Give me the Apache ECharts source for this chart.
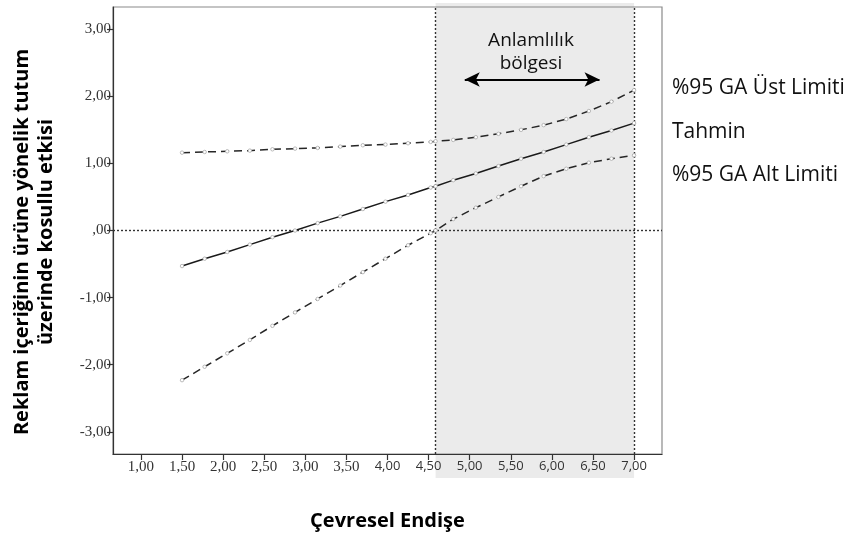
<!DOCTYPE html>
<html>
<head>
<meta charset="utf-8">
<script src="https://cdn.jsdelivr.net/npm/echarts@6/dist/echarts.min.js"></script>
<style>html,body{margin:0;padding:0;background:#fff}#c{width:852px;height:538px}</style>
</head>
<body>
<div id="c"></div>
<script>
// Moderator values (Çevresel Endişe)
var xValues = [1.5, 1.775, 2.05, 2.325, 2.6, 2.875, 3.15, 3.425, 3.7, 3.975, 4.25, 4.525, 4.585, 4.8, 5.075, 5.35, 5.625, 5.9, 6.175, 6.45, 6.725, 7.0];
var upperCI = [1.16, 1.17, 1.18, 1.19, 1.21, 1.22, 1.23, 1.25, 1.27, 1.28, 1.30, 1.32, 1.33, 1.35, 1.39, 1.44, 1.50, 1.57, 1.66, 1.78, 1.92, 2.09];
var estimate = [-0.53, -0.42, -0.32, -0.21, -0.10, 0.00, 0.11, 0.21, 0.32, 0.43, 0.53, 0.64, 0.66, 0.75, 0.85, 0.96, 1.07, 1.17, 1.28, 1.39, 1.49, 1.60];
var lowerCI = [-2.23, -2.03, -1.83, -1.63, -1.42, -1.22, -1.02, -0.82, -0.62, -0.42, -0.22, -0.04, 0.00, 0.17, 0.34, 0.50, 0.66, 0.81, 0.92, 1.01, 1.07, 1.12];
var xTicks = [1.0, 1.5, 2.0, 2.5, 3.0, 3.5, 4.0, 4.5, 5.0, 5.5, 6.0, 6.5, 7.0];
var yTicks = [-3, -2, -1, 0, 1, 2, 3];
var regionStart = 4.585;
var regionEnd = 7.0;
var arrowFrom = 4.94, arrowTo = 6.58, arrowY = 2.25;
var xTitle = 'Çevresel Endişe';
var yTitle1 = 'Reklam içeriğinin ürüne yönelik tutum';
var yTitle2 = 'üzerinde kosullu etkisi';
var regionLabel = ['Anlamlılık', 'bölgesi'];
var seriesNames = ['%95 GA Üst Limiti', 'Tahmin', '%95 GA Alt Limiti'];

function pairs(ys) { return xValues.map(function (x, i) { return [x, ys[i]]; }); }
function fmt(v) {
  var s = Math.abs(v).toFixed(2).replace('.', ',');
  if (Math.abs(v) < 1) s = s.substring(1);
  return (v < 0 ? '-' : '') + s;
}

var chart = echarts.init(document.getElementById('c'), null, {renderer: 'canvas'});
var markerStyle = {color: '#fff', borderColor: '#aaa', borderWidth: 0.8};
function lineSeries(name, ys, dashed) {
  return {
    name: name, type: 'line', data: pairs(ys),
    symbol: 'circle', symbolSize: 3.5, showSymbol: true,
    itemStyle: markerStyle,
    lineStyle: {color: dashed ? '#262626' : '#1a1a1a', width: 1.5, type: dashed ? [8, 5] : 'solid'},
    z: 5, silent: true
  };
}

var option = {
  animation: false,
  grid: {left: 113, right: 190, top: 7, bottom: 84, show: true, borderColor: '#8a8a8a', borderWidth: 1.2, backgroundColor: 'transparent'},
  xAxis: {
    type: 'value', min: 0.66, max: 7.34,
    splitLine: {show: false},
    axisLine: {show: true, onZero: false, lineStyle: {color: '#333', width: 1.2}},
    axisTick: {show: true, customValues: xTicks, length: 6, lineStyle: {color: '#333', width: 1.2}},
    axisLabel: {
      customValues: xTicks, margin: 6,
      formatter: function (v) { return v >= 4 ? '{s|' + fmt(v) + '}' : '{r|' + fmt(v) + '}'; },
      rich: {
        r: {fontFamily: 'Liberation Serif', fontSize: 15, color: '#333'},
        s: {fontFamily: 'Open Sans', fontSize: 13, color: '#333'}
      }
    }
  },
  yAxis: {
    type: 'value', min: -3.33, max: 3.33,
    splitLine: {show: false},
    axisLine: {show: true, onZero: false, lineStyle: {color: '#333', width: 1.2}},
    axisTick: {show: true, customValues: yTicks, length: 6, lineStyle: {color: '#333', width: 1.2}},
    axisLabel: {customValues: yTicks, margin: 2, formatter: fmt, fontFamily: 'Liberation Serif', fontSize: 15, color: '#333'}
  },
  series: [
    lineSeries(seriesNames[0], upperCI, true),
    lineSeries(seriesNames[1], estimate, false),
    lineSeries(seriesNames[2], lowerCI, true),
    {
      type: 'line', data: [], silent: true, z: 3,
      markLine: {
        silent: true, symbol: ['none', 'none'], label: {show: false},
        lineStyle: {color: '#333', type: [2, 2], width: 1.4},
        data: [{yAxis: 0}, {xAxis: regionStart}, {xAxis: regionEnd}]
      }
    },
    {
      type: 'line', data: [], silent: true, z: 6,
      markLine: {
        silent: true, symbol: ['arrow', 'arrow'], symbolSize: [11, 15], label: {show: false},
        lineStyle: {color: '#000', type: 'solid', width: 2},
        data: [[{coord: [arrowFrom, arrowY]}, {coord: [arrowTo, arrowY]}]]
      }
    }
  ]
};
chart.setOption(option);

var px0 = chart.convertToPixel({gridIndex: 0}, [regionStart, 0])[0];
var px1 = chart.convertToPixel({gridIndex: 0}, [regionEnd, 0])[0];
var plotCenter = (chart.convertToPixel({gridIndex: 0}, [0.66, 0])[0] + chart.convertToPixel({gridIndex: 0}, [7.34, 0])[0]) / 2;
var legendY = [88, 132, 175];
var regFont = '19px "Open Sans"';
var legFont = '21px "Open Sans"';
var titleFont = 'bold 20px "Open Sans"';

chart.setOption({
  graphic: [
    {type: 'rect', z: -10, silent: true, shape: {x: px0, y: 3, width: px1 - px0, height: 475}, style: {fill: '#ebebeb'}},
    {type: 'text', z: 10, x: 531, y: 41, style: {text: regionLabel[0], font: regFont, fill: '#111', align: 'center', verticalAlign: 'middle'}},
    {type: 'text', z: 10, x: 531, y: 64, style: {text: regionLabel[1], font: regFont, fill: '#111', align: 'center', verticalAlign: 'middle'}},
    {type: 'text', z: 10, x: 672, y: legendY[0], style: {text: seriesNames[0], font: legFont, fill: '#111', align: 'left', verticalAlign: 'middle'}},
    {type: 'text', z: 10, x: 672, y: legendY[1], style: {text: seriesNames[1], font: legFont, fill: '#111', align: 'left', verticalAlign: 'middle'}},
    {type: 'text', z: 10, x: 672, y: legendY[2], style: {text: seriesNames[2], font: legFont, fill: '#111', align: 'left', verticalAlign: 'middle'}},
    {type: 'text', z: 10, x: plotCenter, y: 521, style: {text: xTitle, font: titleFont, fill: '#000', align: 'center', verticalAlign: 'middle'}},
    {type: 'text', z: 10, x: 22, y: 242, rotation: Math.PI / 2, style: {text: yTitle1, font: titleFont, fill: '#000', align: 'center', verticalAlign: 'middle'}},
    {type: 'text', z: 10, x: 46, y: 232, rotation: Math.PI / 2, style: {text: yTitle2, font: titleFont, fill: '#000', align: 'center', verticalAlign: 'middle'}}
  ]
});
</script>
</body>
</html>
